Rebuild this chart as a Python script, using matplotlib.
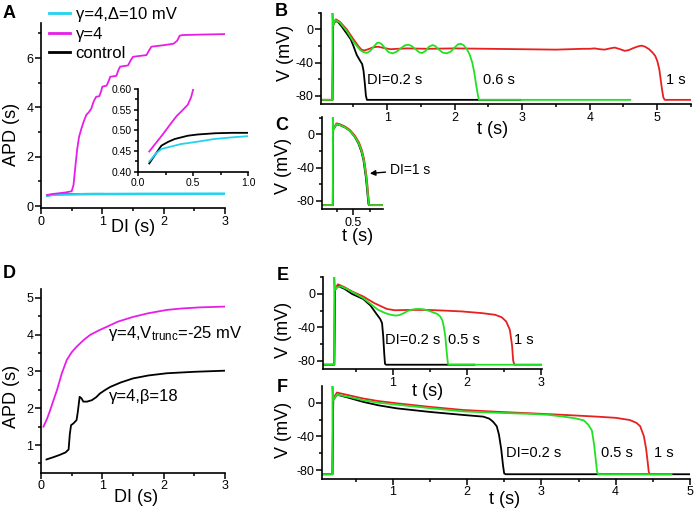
import matplotlib
matplotlib.use('Agg')
from matplotlib import pyplot as plt
from matplotlib import ticker

plt.rcParams['font.family'] = ['Liberation Sans', 'DejaVu Sans']
plt.rcParams['axes.unicode_minus'] = False
plt.rcParams['mathtext.fontset'] = 'custom'
plt.rcParams['mathtext.rm'] = 'Liberation Sans'
plt.rcParams['mathtext.it'] = 'Liberation Sans:italic'

W, H = 697, 516

# ---------------------------------------------------------------- data
# A: APD restitution (main + inset)
a_mag_di  = [0.10, 0.20, 0.30, 0.40, 0.50, 0.53, 0.56, 0.59, 0.62, 0.66, 0.70, 0.74, 0.78,
             0.82, 0.86, 0.90, 0.95, 0.98, 1.00, 1.07, 1.10, 1.13, 1.23, 1.26, 1.29, 1.42,
             1.46, 1.50, 1.72, 1.76, 1.80, 2.00, 2.16, 2.22, 2.26, 2.30, 2.60, 3.00]
a_mag_apd = [0.45, 0.49, 0.52, 0.55, 0.60, 0.85, 1.60, 2.30, 2.80, 3.15, 3.45, 3.70, 3.80,
             3.95, 4.25, 4.43, 4.45, 4.65, 4.84, 4.88, 5.05, 5.24, 5.28, 5.50, 5.65, 5.70,
             5.90, 6.05, 6.12, 6.30, 6.46, 6.52, 6.58, 6.70, 6.90, 6.93, 6.95, 6.97]
a_cyan_di  = [0.10, 0.12, 0.16, 0.21, 0.30, 0.39, 0.50, 0.69, 0.85, 1.00, 1.50, 2.00, 2.50, 3.00]
a_cyan_apd = [0.425, 0.431, 0.444, 0.455, 0.461, 0.467, 0.471, 0.479, 0.483, 0.486,
              0.492, 0.496, 0.498, 0.500]
a_ctrl_di  = [0.10, 0.12, 0.15, 0.21, 0.27, 0.33, 0.45, 0.54, 0.70, 0.85, 1.00]
a_ctrl_apd = [0.420, 0.428, 0.440, 0.463, 0.472, 0.479, 0.487, 0.490, 0.493, 0.494, 0.494]
ins_mag_di  = [0.10, 0.15, 0.21, 0.25, 0.30, 0.35, 0.40, 0.45, 0.48, 0.50]
ins_mag_apd = [0.449, 0.466, 0.486, 0.500, 0.518, 0.535, 0.548, 0.562, 0.580, 0.600]

# B: voltage traces, DI = 0.2 / 0.6 / 1 s
b_blk_t = [0.0, 0.19, 0.20, 0.23, 0.27, 0.33, 0.40, 0.46, 0.50, 0.55, 0.60, 0.63, 0.65,
           0.67, 0.685, 0.70, 2.97]
b_blk_v = [-85, -85, 5, 10, 9, 3, -5, -12, -20, -31, -38, -42, -50, -66, -80, -85, -85]
b_red_t = [0.0, 0.19, 0.20, 0.24, 0.30, 0.40, 0.50, 0.58, 0.62, 0.66, 0.72, 0.80, 0.87,
           0.95, 1.05, 1.15, 1.30, 1.60, 2.00, 2.50, 3.00, 3.50, 3.90, 4.00, 4.07, 4.15,
           4.22, 4.30, 4.37, 4.45, 4.52, 4.58, 4.65, 4.72, 4.77, 4.82, 4.88, 4.93, 4.97,
           5.00, 5.03, 5.05, 5.07, 5.09, 5.11, 5.50]
b_red_v = [-85, -85, 6, 12, 9, 0, -12, -21, -24.5, -25.5, -24, -21.5, -21, -22.5, -24,
           -23.5, -23, -23.5, -23, -23.5, -24, -24.5, -23.5, -23.5, -23, -24, -24.5, -23,
           -22, -24, -26, -25, -22.5, -20.5, -19.7, -21, -24, -28, -32, -38, -48, -60, -72,
           -82, -85, -85]
b_grn_t = [0.0, 0.19, 0.19, 0.20, 0.23, 0.30, 0.40, 0.50, 0.60, 0.65, 0.70, 0.75, 0.80,
           0.85, 0.88, 0.92, 0.97, 1.02, 1.08, 1.14, 1.20, 1.26, 1.31, 1.36, 1.42, 1.48,
           1.52, 1.57, 1.62, 1.67, 1.71, 1.76, 1.82, 1.88, 1.94, 2.00, 2.05, 2.09, 2.13,
           2.18, 2.22, 2.26, 2.29, 2.32, 2.345, 2.36, 4.60]
b_grn_v = [-85, -85, 20, 5, 11, 8, -2, -15, -25, -27.5, -28.5, -26, -21, -16.5, -16, -18,
           -23, -27.5, -29, -27, -23, -19.5, -18.5, -20, -24, -28, -28.5, -26, -21, -19,
           -20, -24, -28, -29, -27, -22, -18, -17.5, -19, -24, -30, -40, -52, -68, -80,
           -85, -85]

# C: DI = 1 s, three conditions overlapping
c_blk_t = [0.0, 0.195, 0.20, 0.25, 0.30, 0.38, 0.45, 0.52, 0.575, 0.62, 0.65, 0.685,
           0.70, 0.714, 0.725, 0.735, 0.95]
c_blk_v = [-85, -85, 5, 12, 11, 8, 4, -3, -11, -21, -31, -51, -63, -75, -84, -85, -85]
c_red_t = [0.0, 0.195, 0.20, 0.25, 0.30, 0.38, 0.45, 0.525, 0.585, 0.63, 0.66, 0.695,
           0.71, 0.724, 0.735, 0.745, 0.95]
c_red_v = [-85, -85, 6, 13, 12, 9, 5, -2, -10, -20, -30, -50, -62, -75, -84, -85, -85]
c_grn_t = [0.0, 0.195, 0.195, 0.20, 0.25, 0.30, 0.38, 0.45, 0.52, 0.58, 0.625, 0.655,
           0.69, 0.705, 0.719, 0.73, 0.74, 0.95]
c_grn_v = [-85, -85, 20, 5, 12, 11, 8, 4, -3, -11, -21, -31, -51, -63, -75, -84, -85, -85]

# D: restitution, two modified models
d_mag_di  = [0.04, 0.10, 0.15, 0.20, 0.26, 0.34, 0.42, 0.50, 0.58, 0.70, 0.80, 0.95,
             1.07, 1.25, 1.50, 1.75, 2.05, 2.30, 2.60, 3.00]
d_mag_apd = [1.50, 1.72, 1.95, 2.20, 2.49, 2.95, 3.31, 3.52, 3.67, 3.86, 3.99, 4.12,
             4.21, 4.35, 4.48, 4.58, 4.67, 4.71, 4.74, 4.76]
d_blk_di  = [0.09, 0.20, 0.30, 0.40, 0.45, 0.47, 0.49, 0.53, 0.58, 0.60, 0.63, 0.66,
             0.69, 0.75, 0.83, 0.90, 0.96, 1.05, 1.13, 1.30, 1.50, 1.75, 2.05, 2.50, 3.00]
d_blk_apd = [0.61, 0.67, 0.73, 0.80, 0.88, 1.30, 1.54, 1.59, 1.68, 1.90, 2.31, 2.27,
             2.18, 2.18, 2.22, 2.30, 2.40, 2.50, 2.58, 2.70, 2.81, 2.89, 2.95, 2.99, 3.02]

# E: V_trunc model, DI = 0.2 / 0.5 / 1 s
e_blk_t = [0.0, 0.21, 0.22, 0.26, 0.35, 0.45, 0.60, 0.70, 0.78, 0.83, 0.855, 0.87,
           0.885, 0.895, 0.91, 2.10]
e_blk_v = [-85, -85, 5, 9.6, 6, 0, -6, -14, -24, -30, -35, -50, -72, -84, -85, -85]
e_red_t = [0.0, 0.21, 0.22, 0.26, 0.35, 0.45, 0.60, 0.75, 0.92, 1.03, 1.20, 1.48, 1.70,
           1.93, 2.20, 2.38, 2.47, 2.53, 2.58, 2.61, 2.625, 2.64, 3.00]
e_red_v = [-85, -85, 6, 11.6, 8, 3, -3, -11, -18, -19.6, -19.2, -19.2, -20, -21, -23,
           -25, -28, -33, -43, -62, -80, -85, -85]
e_grn_t = [0.0, 0.21, 0.21, 0.22, 0.25, 0.30, 0.40, 0.50, 0.60, 0.70, 0.80, 0.90, 0.95,
           1.00, 1.05, 1.10, 1.15, 1.20, 1.25, 1.30, 1.36, 1.42, 1.48, 1.54, 1.60, 1.64,
           1.67, 1.69, 1.71, 1.73, 1.745, 1.76, 3.00]
e_grn_v = [-85, -85, 20, 5, 8, 9, 5, 0, -5, -12, -19, -23, -24.5, -25.5, -26, -25, -23,
           -20.5, -19, -18.2, -18, -18.5, -20, -22, -24, -27, -32, -40, -52, -72, -84,
           -85, -85]

# F: beta model, DI = 0.2 / 0.5 / 1 s
f_blk_t = [0.0, 0.19, 0.20, 0.25, 0.40, 0.60, 0.80, 1.05, 1.50, 1.95, 2.22, 2.30, 2.35,
           2.40, 2.43, 2.46, 2.485, 2.50, 2.52, 5.00]
f_blk_v = [-85, -85, 3, 9.5, 6, 1, -3, -6.7, -11, -14.6, -16.6, -19, -22.6, -28, -38,
           -55, -75, -84, -85, -85]
f_red_t = [0.0, 0.19, 0.20, 0.25, 0.40, 0.60, 0.80, 1.05, 1.50, 1.95, 2.40, 2.85, 3.30,
           3.75, 4.00, 4.19, 4.28, 4.33, 4.38, 4.41, 4.43, 4.445, 4.46, 4.75]
f_red_v = [-85, -85, 5, 12, 9, 5, 2, -0.7, -5, -8.7, -10.8, -12.6, -14.5, -16.6, -18,
           -20.6, -24, -28, -40, -55, -70, -82, -85, -85]
f_grn_t = [0.0, 0.19, 0.19, 0.20, 0.25, 0.40, 0.60, 0.80, 1.05, 1.50, 1.95, 2.40, 2.85,
           3.10, 3.30, 3.45, 3.57, 3.63, 3.68, 3.71, 3.735, 3.75, 3.765, 4.75]
f_grn_v = [-85, -85, 20, 3, 9.5, 7, 3, 0, -2.3, -6.5, -10.4, -12, -13.3, -14.5, -16.6,
           -18.5, -21, -26, -33, -50, -70, -82, -85, -85]

MAG = '#e81ee8'
CYN = '#22d3f0'
GRN = '#22e022'
RED = '#e82020'
BLK = '#000000'

# ---------------------------------------------------------------- helpers
fig = plt.figure(figsize=(W / 100, H / 100), dpi=100)


def axes_px(l, t, r, b):
	return fig.add_axes([l / W, 1 - b / H, (r - l) / W, (b - t) / H])


def ptext(x, y, s, **kw):
	kw.setdefault('ha', 'center')
	kw.setdefault('va', 'center')
	return fig.text(x / W, 1 - y / H, s, **kw)


def style(ax, xmaj, xmin, ymaj, ymin, size=9):
	for s in ['top', 'right']:
		ax.spines[s].set_visible(False)
	for s in ['left', 'bottom']:
		ax.spines[s].set_linewidth(1.2)
	ax.xaxis.set_major_locator(ticker.MultipleLocator(xmaj))
	ax.xaxis.set_minor_locator(ticker.MultipleLocator(xmin))
	ax.yaxis.set_major_locator(ticker.MultipleLocator(ymaj))
	ax.yaxis.set_minor_locator(ticker.MultipleLocator(ymin))
	ax.tick_params(which='both', direction='out', width=1.1, labelsize=size, pad=1.5)
	ax.tick_params(which='major', length=4)
	ax.tick_params(which='minor', length=2.5)
	ax.patch.set_alpha(0)


LW = 1.3
LABEL = 13
NOTE = 10.5

# ---------------------------------------------------------------- A
axA = axes_px(41, 23, 225, 208)
axA.plot(a_ctrl_di, a_ctrl_apd, color=BLK, lw=LW)
lc, = axA.plot(a_cyan_di, a_cyan_apd, color=CYN, lw=1.8)
lm, = axA.plot(a_mag_di, a_mag_apd, color=MAG, lw=LW)
lk, = axA.plot([], [], color=BLK)
axA.set_xlim(0, 3)
axA.set_ylim(-0.08, 7.42)
style(axA, 1, 0.5, 2, 1)
leg = axA.legend([lc, lm, lk], ['γ=4,Δ=10 mV', 'γ=4', 'control'], loc='upper left',
                 bbox_to_anchor=(49 / W, 1 - 7 / H), bbox_transform=fig.transFigure,
                 frameon=False, fontsize=12, handlelength=1.25, handletextpad=0.35,
                 labelspacing=0.28, borderpad=0, borderaxespad=0)
for h in leg.get_lines():
	h.set_linewidth(2)

axI = axes_px(138.3, 89, 248.3, 171.7)
axI.plot(a_ctrl_di, a_ctrl_apd, color=BLK, lw=LW)
axI.plot(a_cyan_di, a_cyan_apd, color=CYN, lw=LW)
axI.plot(ins_mag_di, ins_mag_apd, color=MAG, lw=LW)
axI.set_xlim(0, 1.0)
axI.set_ylim(0.4, 0.6)
style(axI, 0.5, 0.25, 0.05, 0.025, size=7.5)
axI.yaxis.set_major_formatter(ticker.FormatStrFormatter('%.2f'))
axI.xaxis.set_major_formatter(ticker.FormatStrFormatter('%.1f'))
axI.tick_params(which='major', length=3)
axI.tick_params(which='minor', length=2)

ptext(12, 134, 'APD (s)', rotation=90, fontsize=LABEL)
ptext(133, 227, 'DI (s)', fontsize=LABEL)

# ---------------------------------------------------------------- B
axB = axes_px(321, 12.7, 691, 104)
axB.plot(b_blk_t, b_blk_v, color=BLK, lw=LW)
axB.plot(b_red_t, b_red_v, color=RED, lw=LW)
axB.plot(b_grn_t, b_grn_v, color=GRN, lw=LW)
axB.set_xlim(0.02, 5.5)
axB.set_ylim(-90, 20)
style(axB, 1, 0.5, 40, 20)
axB.text(0.70, -61, 'DI=0.2 s', fontsize=NOTE, va='center')
axB.text(2.42, -61, '0.6 s', fontsize=NOTE, va='center')
axB.text(5.13, -61, '1 s', fontsize=NOTE, va='center')
ptext(285, 53, 'V (mV)', rotation=90, fontsize=LABEL)
ptext(493, 130, 't (s)', fontsize=LABEL)

# ---------------------------------------------------------------- C
axC = axes_px(321.7, 116.7, 383.3, 209.3)
axC.plot(c_blk_t, c_blk_v, color=BLK, lw=LW)
axC.plot(c_red_t, c_red_v, color=RED, lw=LW)
axC.plot(c_grn_t, c_grn_v, color=GRN, lw=LW)
axC.set_xlim(0.03, 0.945)
axC.set_ylim(-90, 21)
style(axC, 0.5, 0.25, 40, 20)
axC.annotate('DI=1 s', xy=(0.745, -47), xytext=(1.04, -43), fontsize=10, va='center',
             annotation_clip=False,
             arrowprops=dict(arrowstyle='-|>', color=BLK, lw=1, mutation_scale=8,
                             shrinkA=1, shrinkB=0))
ptext(283, 166, 'V (mV)', rotation=90, fontsize=LABEL)
ptext(358, 237, 't (s)', fontsize=LABEL)

# ---------------------------------------------------------------- D
axD = axes_px(41, 289.3, 225, 472.7)
axD.plot(d_mag_di, d_mag_apd, color=MAG, lw=LW)
axD.plot(d_blk_di, d_blk_apd, color=BLK, lw=LW)
axD.set_xlim(0, 3)
axD.set_ylim(0.25, 5.23)
style(axD, 1, 0.5, 1, 0.5)
axD.text(1.1, 4.04, 'γ=4,V$_{\\mathrm{trunc}}$=-25 mV', fontsize=12, va='center',
         clip_on=False)
axD.text(1.1, 2.31, 'γ=4,β=18', fontsize=12, va='center')
ptext(12, 396, 'APD (s)', rotation=90, fontsize=LABEL)
ptext(136, 498, 'DI (s)', fontsize=LABEL)

# ---------------------------------------------------------------- E
axE = axes_px(322.7, 277.3, 541.7, 369.3)
axE.plot(e_blk_t, e_blk_v, color=BLK, lw=LW)
axE.plot(e_red_t, e_red_v, color=RED, lw=LW)
axE.plot(e_grn_t, e_grn_v, color=GRN, lw=LW)
axE.set_xlim(0.054, 3.01)
axE.set_ylim(-90.5, 20)
style(axE, 1, 0.5, 40, 20)
axE.text(0.90, -55, 'DI=0.2 s', fontsize=NOTE, va='center')
axE.text(1.75, -55, '0.5 s', fontsize=NOTE, va='center')
axE.text(2.63, -55, '1 s', fontsize=NOTE, va='center')
ptext(283, 330, 'V (mV)', rotation=90, fontsize=LABEL)
ptext(428, 391, 't (s)', fontsize=LABEL)

# ---------------------------------------------------------------- F
axF = axes_px(321.7, 386, 690, 478.7)
axF.plot(f_blk_t, f_blk_v, color=BLK, lw=LW)
axF.plot(f_red_t, f_red_v, color=RED, lw=LW)
axF.plot(f_grn_t, f_grn_v, color=GRN, lw=LW)
axF.set_xlim(0.045, 5.0)
axF.set_ylim(-90.3, 19.8)
style(axF, 1, 0.5, 40, 20)
axF.text(2.525, -59.4, 'DI=0.2 s', fontsize=NOTE, va='center')
axF.text(3.80, -59.4, '0.5 s', fontsize=NOTE, va='center')
axF.text(4.51, -59.4, '1 s', fontsize=NOTE, va='center')
ptext(283, 430, 'V (mV)', rotation=90, fontsize=LABEL)
ptext(505, 500, 't (s)', fontsize=LABEL)

# ---------------------------------------------------------------- panel letters
for x, y, s in [(3, 14, 'A'), (275, 11, 'B'), (275, 125, 'C'),
                (3, 273, 'D'), (277, 275, 'E'), (277, 388, 'F')]:
	ptext(x, y, s, ha='left', fontsize=13, fontweight='bold')

fig.savefig('out.png', dpi=100)
